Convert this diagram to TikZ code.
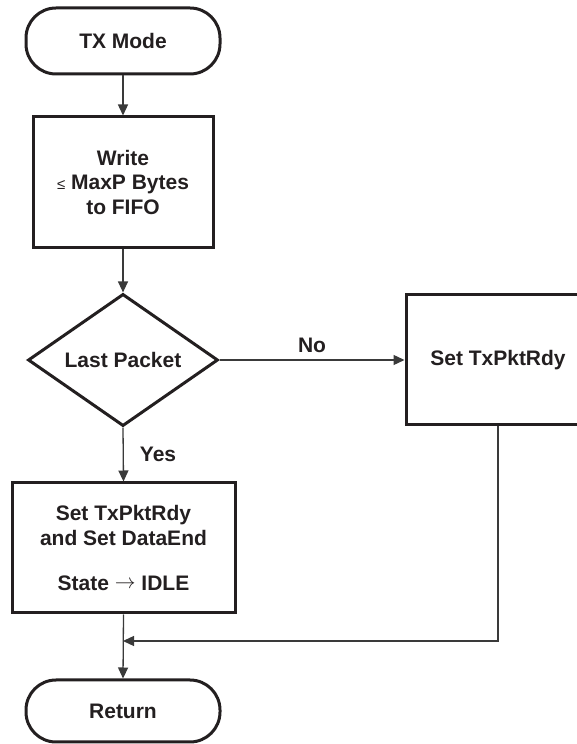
\documentclass[tikz,border=0pt]{standalone}
\usepackage{fontspec}
\setmainfont{Liberation Sans}
\newfontfamily\symbfont{Liberation Sans}
\usetikzlibrary{shapes.geometric,arrows.meta}
\definecolor{ink}{HTML}{231F20}
\definecolor{wire}{HTML}{3A3A3A}
\newcommand{\thinarrow}{\raisebox{2pt}{\fontsize{20}{20}\selectfont$\rightarrow$}}
\begin{document}
\begin{tikzpicture}[x=1pt,y=1pt,
  every node/.style={font=\fontsize{21}{24.5}\selectfont\bfseries, text=ink, align=center},
  box/.style={draw=ink, line width=3pt, rectangle, inner sep=0pt},
  term/.style={box, rounded corners=30pt},
  decision/.style={draw=ink, line width=3pt, diamond, inner sep=0pt},
  flow/.style={draw=wire, line width=1.3pt, -{Triangle[length=11pt,width=10pt]}},
  lbl/.style={inner sep=0pt}]
\useasboundingbox (0,0) rectangle (576,744);
\node[term, minimum width=194pt, minimum height=66pt] (tx) at (123,703) {TX Mode};
\node[box, minimum width=180pt, minimum height=131pt] (write) at (123,561.5)
  {Write\\{\symbfont\mdseries\fontsize{15}{15}\selectfont ≤} MaxP Bytes\\to FIFO};
\node[decision, minimum width=190pt, minimum height=130pt] (last) at (123,384) {Last Packet};
\node[box, minimum width=184pt, minimum height=130pt] (set1) at (498,384) {Set TxPktRdy};
\node[box, minimum width=223pt, minimum height=130pt] (set2) at (123.5,196)
  {Set TxPktRdy\\and Set DataEnd\\[21pt]State\ \thinarrow\ IDLE};
\node[term, minimum width=194pt, minimum height=62pt] (ret) at (123,33) {Return};
\coordinate (merge) at (123,103);
\coordinate (corner) at (set1.south |- merge);
\draw[flow] (tx.south) -- (write.north);
\draw[flow] (write.south) -- (last.north);
\draw[flow] (last.east) -- node[lbl, above=7pt] (no) {No} (set1.west);
\draw[flow] (last.south) -- node[lbl, right=16pt] (yes) {Yes} (set2.north);
\draw[flow] (set1.south) -- (corner) -- (merge);
\draw[flow] (set2.south) -- (ret.north);
\end{tikzpicture}
\end{document}
